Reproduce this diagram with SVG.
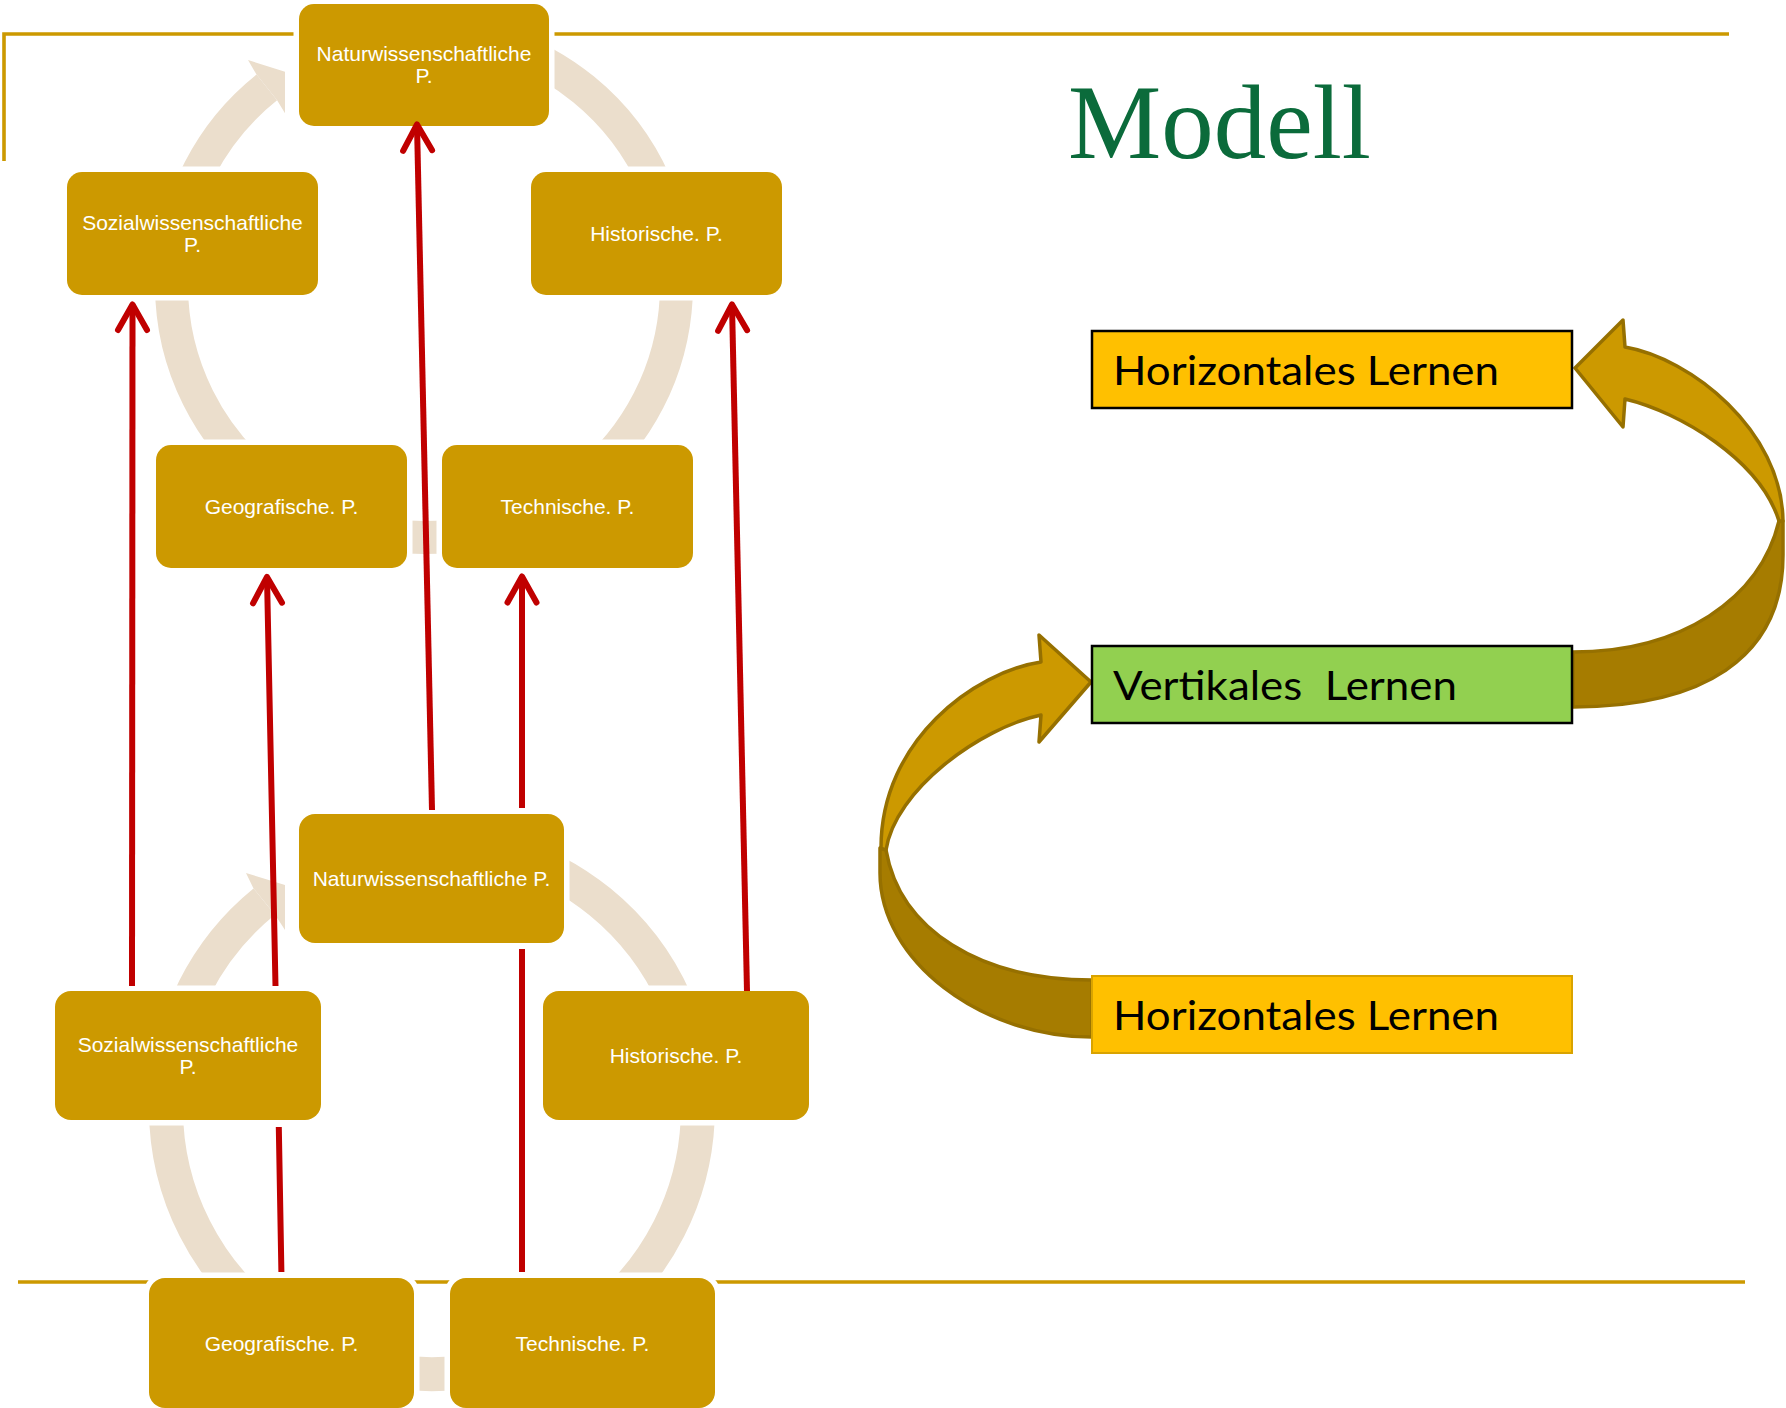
<svg xmlns="http://www.w3.org/2000/svg" width="1786" height="1408" viewBox="0 0 1786 1408">
<style>
.bg{fill:#ffffff}
.rule{stroke:#CC9900;stroke-width:3.6;fill:none}
.ring{fill:none;stroke:#EBDECC}
.ringhead{fill:#EBDECC}
.node{fill:#CC9900;stroke:#ffffff;stroke-width:11;paint-order:stroke}
.nt{font-family:"Liberation Sans",Arial,sans-serif;font-size:21px;fill:#ffffff;text-anchor:middle}
.red{stroke:#C00000;stroke-width:6;fill:none;stroke-linecap:butt}
.redhead{stroke:#C00000;stroke-width:6;fill:none;stroke-linecap:round;stroke-linejoin:round}
.title{font-family:"Liberation Serif","Times New Roman",serif;font-size:106px;fill:#0B6B3B}
.lt{font-family:Lato,"Open Sans",sans-serif;font-size:40px;fill:#000000;white-space:pre}
.curvL{fill:#CC9900;stroke:#967000;stroke-width:3.5;stroke-linejoin:round}
.curvD{fill:#A67C00;stroke:#967000;stroke-width:3.5;stroke-linejoin:round}
</style>
<rect class="bg" x="0" y="0" width="1786" height="1408"/>

<g id="rules">
<path class="rule" d="M4 161 V34 H1729"/>
<path class="rule" d="M18 1282 H1745"/>
</g>

<g id="cycle-rings">
<path class="ring" stroke-width="33" d="M489.4 41.1 A252.5 252.5 0 1 1 266.8 87.4"/>
<polygon class="ringhead" points="256.5,74.5 248,60 285,71.7 285,113.3 277.1,100.3"/>
<path class="ring" stroke-width="34" d="M500.8 851.1 A266 266 0 1 1 264.2 901.6"/>
<polygon class="ringhead" points="253.5,888.4 246,873 285,885 285,930 275,914.8"/>
</g>

<g id="node-nat-top"><rect class="node" x="299" y="4" width="250" height="122" rx="15"/><text class="nt" x="424" y="61">Naturwissenschaftliche</text><text class="nt" x="424" y="83">P.</text></g>
<g id="node-soz-top"><rect class="node" x="67" y="172" width="251" height="123" rx="15"/><text class="nt" x="192.5" y="229.5">Sozialwissenschaftliche</text><text class="nt" x="192.5" y="251.5">P.</text></g>
<g id="node-hist-top"><rect class="node" x="531" y="172" width="251" height="123" rx="15"/><text class="nt" x="656.5" y="241">Historische. P.</text></g>
<g id="node-geo-top"><rect class="node" x="156" y="445" width="251" height="123" rx="15"/><text class="nt" x="281.5" y="514">Geografische. P.</text></g>
<g id="node-tech-top"><rect class="node" x="442" y="445" width="251" height="123" rx="15"/><text class="nt" x="567.5" y="514">Technische. P.</text></g>

<g id="node-nat-bot"><rect class="node" x="299" y="814" width="265" height="129" rx="16"/><text class="nt" x="431.5" y="886">Naturwissenschaftliche P.</text></g>
<g id="node-soz-bot"><rect class="node" x="55" y="991" width="266" height="129" rx="16"/><text class="nt" x="188" y="1051.5">Sozialwissenschaftliche</text><text class="nt" x="188" y="1073.5">P.</text></g>
<g id="node-hist-bot"><rect class="node" x="543" y="991" width="266" height="129" rx="16"/><text class="nt" x="676" y="1063">Historische. P.</text></g>
<g id="node-geo-bot"><rect class="node" x="149" y="1278" width="265" height="130" rx="16"/><text class="nt" x="281.5" y="1350.5">Geografische. P.</text></g>
<g id="node-tech-bot"><rect class="node" x="450" y="1278" width="265" height="130" rx="16"/><text class="nt" x="582.5" y="1350.5">Technische. P.</text></g>

<g id="connectors">
<path class="red" d="M132 986 L132.5 304.5"/>
<path class="redhead" d="M118 330 L132.5 304.5 L147 330"/>
<path class="red" d="M281.4 1272 L278.8 1127 M275.5 986 L267 577"/>
<path class="redhead" d="M253 603.3 L267 577 L282 602.7"/>
<path class="red" d="M432 810 L417 124.5"/>
<path class="redhead" d="M403.1 150.8 L417 124.5 L432.1 150.2"/>
<path class="red" d="M522 1272 L522 949 M522 808 L522 576.5"/>
<path class="redhead" d="M507.5 602.5 L522 576.5 L536.5 602.5"/>
<path class="red" d="M747 991 L732 304.5"/>
<path class="redhead" d="M718.1 330.8 L732 304.5 L747.1 330.2"/>
</g>

<g id="title"><text class="title" x="1068" y="158" textLength="303" lengthAdjust="spacingAndGlyphs">Modell</text></g>

<g id="curved-arrows">
<path class="curvD" d="M1573 652 C1680 652 1760 600 1779 521 L1783 521 L1783 555 C1783 660 1700 707 1573 707 Z"/>
<path class="curvL" d="M1575 368 L1623 320 L1625 347 C1690 358 1782 430 1783 521 L1779 521 C1760 460 1680 412 1625 399 L1623 427 Z"/>
<path class="curvD" d="M1092 980 C980 980 900 930 886 850 L880 848 L880 873 C880 960 980 1037 1092 1037 Z"/>
<path class="curvL" d="M1091 682 L1039 635 L1041 662 C975 672 881 740 881 848 L886 850 C895 790 980 728 1041 715 L1039 742 Z"/>
</g>

<g id="node-horiz-top"><rect x="1092" y="331" width="480" height="77" fill="#FFC000" stroke="#000000" stroke-width="2.5"/><text class="lt" x="1113" y="385" textLength="386" lengthAdjust="spacingAndGlyphs">Horizontales Lernen</text></g>
<g id="node-vert"><rect x="1092" y="646" width="480" height="77" fill="#92D050" stroke="#000000" stroke-width="2.5"/><text class="lt" x="1113" y="700" textLength="344" lengthAdjust="spacingAndGlyphs">Vertikales  Lernen</text></g>
<g id="node-horiz-bot"><rect x="1092" y="976" width="480" height="77" fill="#FFC000" stroke="#D9A300" stroke-width="2"/><text class="lt" x="1113" y="1030" textLength="386" lengthAdjust="spacingAndGlyphs">Horizontales Lernen</text></g>
</svg>
